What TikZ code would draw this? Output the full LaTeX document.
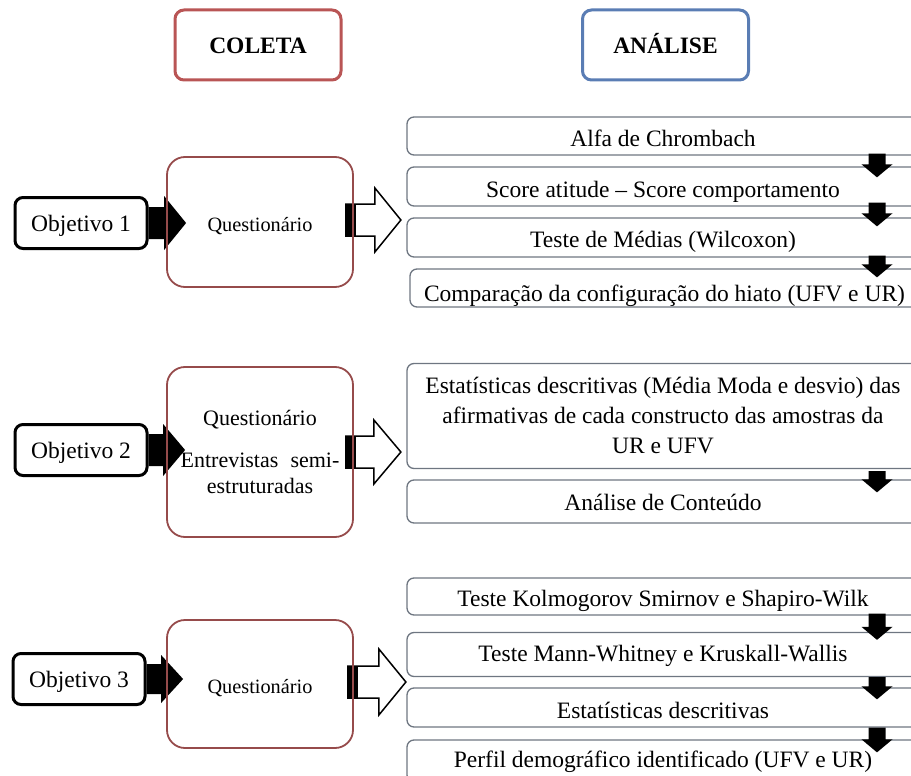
\documentclass[tikz,border=0pt]{standalone}
\usepackage{fontspec}
\setmainfont{Liberation Serif}
\usetikzlibrary{calc,backgrounds}
\definecolor{colred}{RGB}{185,85,85}
\definecolor{qred}{RGB}{150,75,75}
\definecolor{anablue}{RGB}{90,125,180}
\definecolor{boxgray}{RGB}{110,118,129}
% right block arrow: #1 start, #2 tip, #3 shaft half, #4 head half, #5 head length, #6 style
\newcommand{\blockR}[6]{%
  \path[#6] let \p1=#1, \p2=#2 in
    (\x1,\y1+#3) -- (\x2-#5,\y1+#3) -- (\x2-#5,\y1+#4) -- (\x2,\y1)
    -- (\x2-#5,\y1-#4) -- (\x2-#5,\y1-#3) -- (\x1,\y1-#3) -- cycle;}
% down block arrow: #1 start, #2 tip
\newcommand{\blockD}[2]{%
  \path[fill=black] let \p1=#1, \p2=#2 in
    (\x1-8.5pt,\y1) -- (\x1-8.5pt,\y2+13pt) -- (\x1-15.5pt,\y2+13pt) -- (\x1,\y2)
    -- (\x1+15.5pt,\y2+13pt) -- (\x1+8.5pt,\y2+13pt) -- (\x1+8.5pt,\y1) -- cycle;}
\newcommand{\stripe}[1]{%
  \path[fill=black] let \p1=#1 in (\x1,\y1+16pt) rectangle (\x1+10pt,\y1-16pt);}
\newcommand{\fA}{\fontsize{23.5}{30}\selectfont}
\newcommand{\fQ}{\fontsize{20.3}{26}\selectfont}
\newcommand{\fQb}{\fontsize{22}{26}\selectfont}
\tikzset{
  hdr/.style={rounded corners=9, line width=3, minimum width=166, minimum height=70,
    font=\fA\bfseries, inner sep=0, text height=16.6pt, text depth=0pt},
  obj/.style={draw=black, fill=white, line width=3, rounded corners=8, minimum width=132,
    minimum height=51, font=\fA, inner sep=0, text height=17.5pt, text depth=0pt},
  coll/.style={draw=qred, line width=1.8, rounded corners=18, minimum width=186,
    font=\fQ, align=center, inner sep=0},
  coll1/.style={coll, text height=18pt, text depth=0pt},
  ana/.style={draw=boxgray, line width=1.3, rounded corners=7, minimum width=512,
    font=\fA, align=center, inner sep=0},
  ana1/.style={ana, text depth=0pt, text height=#1},
  blk/.style={fill=black},
  wht/.style={fill=white, draw=black, line width=1.5, line join=miter},
}
\begin{document}
\begin{tikzpicture}[x=1pt,y=-1pt]
\useasboundingbox (0,0) rectangle (911,776);
\clip (0,0) rectangle (911,776);
% headers
\node[hdr, draw=colred] (h1) at (258,45) {COLETA};
\node[hdr, draw=anablue] (h2) at (665.5,45) {ANÁLISE};
% row 1
\node[obj] (o1) at (81,223) {Objetivo 1};
\node[coll1, minimum height=130] (q1) at (260,222) {Questionário};
\node[ana1=21pt, minimum height=38] (r11) at (663,136) {Alfa de Chrombach};
\node[ana1=22pt, minimum height=39] (r12) at (663,186.5) {Score atitude -- Score comportamento};
\node[ana1=19pt, minimum height=39] (r13) at (663,237.5) {Teste de Médias (Wilcoxon)};
\node[ana1=26pt, minimum height=38, minimum width=509] (r14) at (664.5,288) {Comparação da configuração do hiato (UFV e UR)};
% row 2
\node[obj] (o2) at (81,450) {Objetivo 2};
\node[coll, font=\fQb, minimum height=170] (q2) at (260,452) {Questionário\\[16pt]Entrevistas\hspace{0.3em} semi-\\estruturadas};
\node[ana, minimum height=105] (r21) at (663,416) {Estatísticas descritivas (Média Moda e desvio) das\\afirmativas de cada constructo das amostras da\\UR e UFV};
\node[ana1=17pt, minimum height=43] (r22) at (663,501.5) {Análise de Conteúdo};
% row 3
\node[obj] (o3) at (79,679) {Objetivo 3};
\node[coll1, minimum height=128] (q3) at (260,684) {Questionário};
\node[ana1=20pt, minimum height=37] (r31) at (663,596.5) {Teste Kolmogorov Smirnov e Shapiro-Wilk};
\node[ana1=14pt, minimum height=44] (r32) at (663,654.5) {Teste Mann-Whitney e Kruskall-Wallis};
\node[ana1=21pt, minimum height=39] (r33) at (663,707.5) {Estatísticas descritivas};
\node[ana1=12pt, minimum height=42] (r34) at (663,761) {Perfil demográfico identificado (UFV e UR)};
% horizontal block arrows (behind the collection boxes)
\begin{scope}[on background layer]
  \blockR{(o1.east)}{($(o1.east -| q1.west)+(20,0)$)}{16pt}{27pt}{22pt}{blk}
  \blockR{(o2.east)}{($(o2.east -| q2.west)+(19,0)$)}{16pt}{26pt}{22pt}{blk}
  \blockR{(o3.east)}{($(o3.east -| q3.west)+(17,0)$)}{15pt}{24pt}{22pt}{blk}
  \blockR{($(q1.east)+(-8,-2)$)}{($(q1.east)+(47,-2)$)}{16pt}{32pt}{26pt}{wht}
  \blockR{($(q2.east)+(-8,0)$)}{($(q2.east)+(47,0)$)}{16pt}{32pt}{27pt}{wht}
  \blockR{($(q3.east)+(-6,-2)$)}{($(q3.east)+(52,-2)$)}{16pt}{33pt}{27pt}{wht}
  \stripe{($(q1.east)+(-8,-2)$)}
  \stripe{($(q2.east)+(-8,0)$)}
  \stripe{($(q3.east)+(-6,-2)$)}
\end{scope}
% down arrows
\blockD{($(r11.south)+(214,-2)$)}{($(r12.north)+(214,11)$)}
\blockD{($(r12.south)+(214,-4)$)}{($(r13.north)+(214,9)$)}
\blockD{($(r13.south)+(214,-2)$)}{($(r14.north -| r13.south)+(214,9)$)}
\blockD{($(r21.south)+(214,2)$)}{($(r22.north)+(214,13)$)}
\blockD{($(r31.south)+(214,-2)$)}{($(r32.north)+(214,8)$)}
\blockD{($(r32.south)+(214,0)$)}{($(r33.north)+(214,12)$)}
\blockD{($(r33.south)+(214,0)$)}{($(r34.north)+(214,13)$)}
\end{tikzpicture}
\end{document}
